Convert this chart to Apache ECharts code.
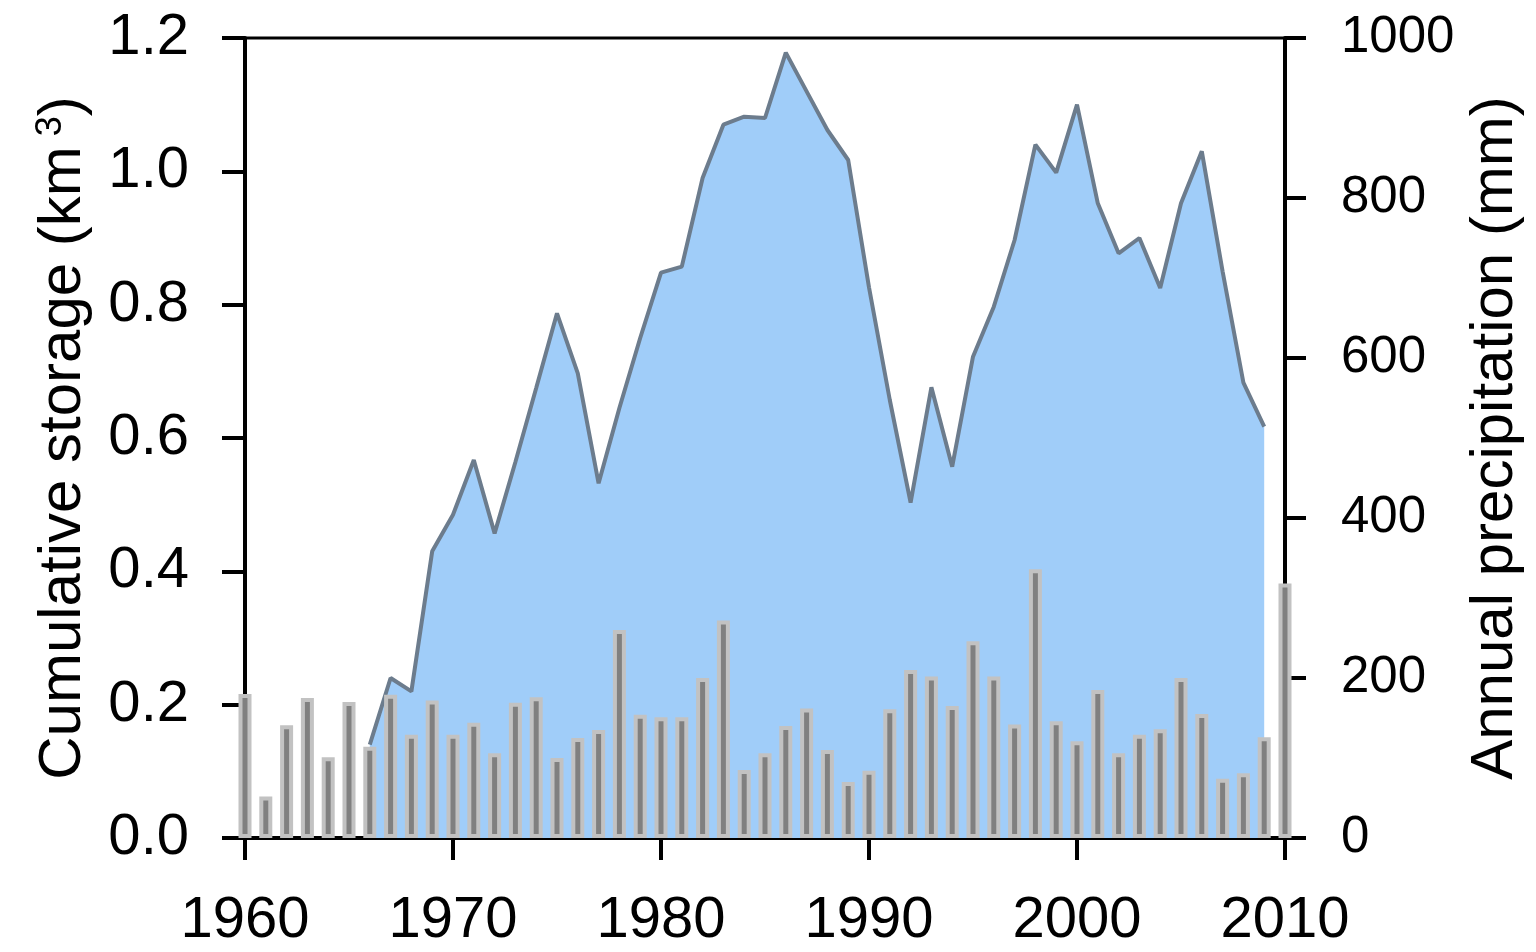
<!DOCTYPE html>
<html>
<head>
<meta charset="utf-8">
<script src="https://cdn.jsdelivr.net/npm/echarts@6/dist/echarts.min.js"></script>
<style>
  html, body { margin: 0; padding: 0; background: #fff; }
  #chart { width: 1536px; height: 952px; }
</style>
</head>
<body>
<div id="chart"></div>
<script>
// annual precipitation (mm), one value per year from 1960
const precipYears = [1960, 1961, 1962, 1963, 1964, 1965, 1966, 1967, 1968, 1969,
  1970, 1971, 1972, 1973, 1974, 1975, 1976, 1977, 1978, 1979,
  1980, 1981, 1982, 1983, 1984, 1985, 1986, 1987, 1988, 1989,
  1990, 1991, 1992, 1993, 1994, 1995, 1996, 1997, 1998, 1999,
  2000, 2001, 2002, 2003, 2004, 2005, 2006, 2007, 2008, 2009, 2010]
const precipitation = [180, 52, 141, 175, 101, 170, 114, 179, 129, 172,
  129, 144, 106, 169, 176, 100, 125, 135, 260, 154,
  151, 151, 200, 272, 85, 106, 140, 162, 110, 70,
  84, 161, 210, 202, 165, 246, 202, 142, 336, 146,
  121, 185, 106, 129, 136, 200, 155, 74, 81, 126, 318]

// cumulative storage (km3), from 1966
const storageYears = [1966, 1967, 1968, 1969,
  1970, 1971, 1972, 1973, 1974, 1975, 1976, 1977, 1978, 1979,
  1980, 1981, 1982, 1983, 1984, 1985, 1986, 1987, 1988, 1989,
  1990, 1991, 1992, 1993, 1994, 1995, 1996, 1997, 1998, 1999,
  2000, 2001, 2002, 2003, 2004, 2005, 2006, 2007, 2008, 2009]
const storage = [0.14, 0.24, 0.22, 0.43,
  0.485, 0.567, 0.457, 0.564, 0.675, 0.787, 0.697, 0.532, 0.645, 0.75,
  0.848, 0.857, 0.99, 1.07, 1.082, 1.08, 1.178, 1.12, 1.062, 1.017,
  0.826, 0.657, 0.503, 0.676, 0.557, 0.722, 0.797, 0.897, 1.04, 0.998,
  1.1, 0.952, 0.877, 0.9, 0.825, 0.952, 1.03, 0.85, 0.683, 0.617]

const font = 'Liberation Sans'

const chart = echarts.init(document.getElementById('chart'))
chart.setOption({
  animation: false,
  grid: {
    left: 245,
    right: 251,
    top: 38,
    bottom: 114,
    containLabel: false,
    outerBoundsMode: 'none',
    show: true,
    borderColor: '#000',
    borderWidth: 3
  },
  xAxis: {
    type: 'value',
    min: 1960,
    max: 2010,
    interval: 10,
    splitLine: { show: false },
    axisLine: { lineStyle: { color: '#000', width: 4 } },
    axisTick: { length: 22, lineStyle: { color: '#000', width: 4 } },
    axisLabel: {
      color: '#000', fontFamily: font, fontSize: 58, margin: 54,
      formatter: function(v) { return String(v) }
    }
  },
  yAxis: [
    {
      type: 'value',
      min: 0,
      max: 1.2,
      interval: 0.2,
      name: 'Cumulative storage (km{sup|3})',
      nameLocation: 'middle',
      nameRotate: 90,
      nameGap: 152,
      nameTextStyle: {
        color: '#000',
        fontFamily: font,
        fontSize: 60,
        rich: {
          sup: { fontFamily: font, fontSize: 36, color: '#000', verticalAlign: 'top', padding: [0, 0, 0, 10] }
        }
      },
      splitLine: { show: false },
      axisLine: { show: true, lineStyle: { color: '#000', width: 4 } },
      axisTick: { show: true, length: 23, lineStyle: { color: '#000', width: 4 } },
      axisLabel: {
        color: '#000', fontFamily: font, fontSize: 58, margin: 56,
        formatter: function(v) { return v.toFixed(1) }
      }
    },
    {
      type: 'value',
      position: 'right',
      min: 0,
      max: 1000,
      interval: 200,
      name: 'Annual precipitation (mm)',
      nameLocation: 'middle',
      nameRotate: 90,
      nameGap: 160,
      nameTextStyle: { color: '#000', fontFamily: font, fontSize: 60 },
      splitLine: { show: false },
      axisLine: { show: true, lineStyle: { color: '#000', width: 4 } },
      axisTick: { show: true, length: 21, lineStyle: { color: '#000', width: 4 } },
      axisLabel: {
        color: '#000', fontFamily: font, fontSize: 51, margin: 56,
        formatter: function(v) { return String(v) }
      }
    }
  ],
  series: [
    {
      name: 'Cumulative storage',
      type: 'line',
      yAxisIndex: 0,
      z: 1,
      data: storageYears.map((y, i) => [y, storage[i]]),
      showSymbol: false,
      lineStyle: { color: '#6c7c8d', width: 4 },
      areaStyle: { color: '#a0cdf9', opacity: 1 }
    },
    {
      name: 'Annual precipitation',
      type: 'bar',
      yAxisIndex: 1,
      z: 5,
      data: precipYears.map((y, i) => [y, precipitation[i]]),
      barWidth: 13,
      itemStyle: { color: '#808080', borderColor: '#c2c2c2', borderWidth: 4 }
    }
  ]
})
</script>
</body>
</html>
